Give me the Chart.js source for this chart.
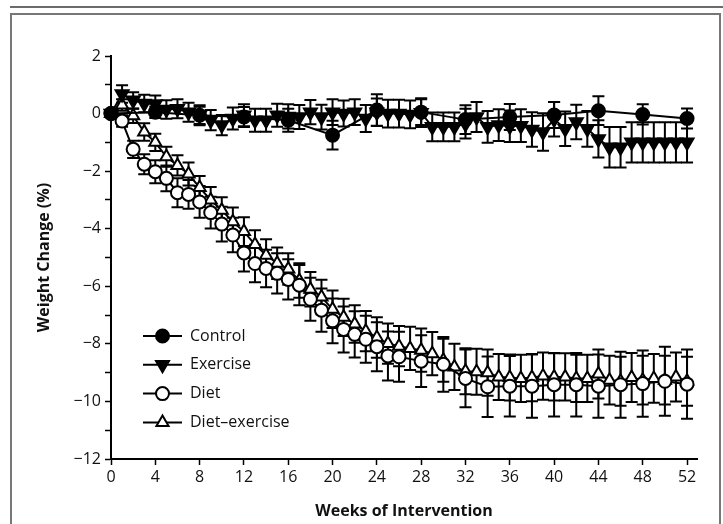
<!DOCTYPE html>
<html>
<head>
<meta charset="utf-8">
<script src="https://cdn.jsdelivr.net/npm/chart.js@4.4.0/dist/chart.umd.min.js"></script>
<style>
  html, body { margin: 0; padding: 0; background: #fff; }
  #wrap { position: relative; width: 723px; height: 524px; overflow: hidden; }
  #rule { position: absolute; left: 10px; top: 6px; right: 0; height: 2px; background: #6b6b6b; }
  #frame { position: absolute; left: 10px; top: 13px; width: 707px; height: 540px; border: 2px solid #777; }
  canvas { position: absolute; left: 0; top: 0; }
</style>
</head>
<body>
<div id="wrap">
  <div id="rule"></div>
  <div id="frame"></div>
  <canvas id="weightChart" width="723" height="524"></canvas>
</div>
<script>
// weeks of intervention
const weeklyWeeks = [0,1,2,3,4,5,6,7,8,9,10,11,12,13,14,15,16,17,18,19,20,21,22,23,24,25,26,
  27,28,29,30,31,32,33,34,35,36,37,38,39,40,41,42,43,44,45,46,47,48,49,50,51,52];
const controlWeeks = [0,4,8,12,16,20,24,28,32,36,40,44,48,52];
const dietWeeks = [0,1,2,3,4,5,6,7,8,9,10,11,12,13,14,15,16,17,18,19,20,21,22,23,24,25,26,
  28,30,32,34,36,38,40,42,44,46,48,50,52];

const xTicks = [0,4,8,12,16,20,24,28,32,36,40,44,48,52];
const yMajorTicks = [2,0,-2,-4,-6,-8,-10,-12];
const yMinorTicks = [1,-1,-3,-5,-7,-9,-11];

const seriesNames = ["Control", "Exercise", "Diet", "Diet\u2013exercise"];

// mean weight change (%) and error (+/-)
const controlMean = [0, 0.05, -0.06, -0.12, -0.23, -0.75, 0.12, 0.05, -0.21, -0.12, -0.05, 0.1, -0.03, -0.17];
const controlErr  = [0, 0.2, 0.3, 0.35, 0.4, 0.5, 0.55, 0.45, 0.5, 0.45, 0.45, 0.5, 0.35, 0.35];

const exerciseMean = [0, 0.68, 0.46, 0.35, 0.33, 0.14, 0.17, 0.05, -0.06, -0.23, -0.4, -0.17, -0.06, -0.23,
  -0.23, -0.06, -0.1, -0.12, 0.05, -0.12, 0.05, 0, 0.05, -0.17, 0.05, 0, 0, -0.03, 0.03,
  -0.46, -0.46, -0.46, -0.35, -0.12, -0.46, -0.4, -0.44, -0.42, -0.55, -0.64, -0.2, -0.53,
  -0.29, -0.53, -0.88, -1.17, -1.17, -1.0, -1.0, -1.0, -1.0, -1.0, -1.0];
const exerciseErr = [0, 0.3, 0.28, 0.3, 0.3, 0.32, 0.33, 0.33, 0.35, 0.35, 0.35, 0.38, 0.38, 0.4,
  0.4, 0.4, 0.42, 0.42, 0.42, 0.43, 0.45, 0.45, 0.45, 0.47, 0.47, 0.48, 0.48, 0.48, 0.5,
  0.5, 0.5, 0.5, 0.52, 0.52, 0.55, 0.55, 0.55, 0.57, 0.6, 0.65, 0.6, 0.6,
  0.6, 0.62, 0.65, 0.7, 0.7, 0.7, 0.7, 0.7, 0.7, 0.7, 0.7];

const dietMean = [0, -0.26, -1.24, -1.76, -2.02, -2.25, -2.75, -2.81, -3.07, -3.44, -3.84, -4.22, -4.84,
  -5.21, -5.38, -5.55, -5.76, -5.96, -6.45, -6.83, -7.2, -7.5, -7.67, -7.84, -8.1, -8.42, -8.45,
  -8.6, -8.71, -9.2, -9.49, -9.47, -9.47, -9.42, -9.42, -9.47, -9.42, -9.38, -9.3, -9.4];
const dietErr = [0, 0.2, 0.3, 0.35, 0.4, 0.45, 0.5, 0.5, 0.55, 0.55, 0.6, 0.6, 0.65,
  0.65, 0.65, 0.7, 0.7, 0.7, 0.75, 0.75, 0.78, 0.8, 0.8, 0.82, 0.85, 0.85, 0.87,
  0.9, 0.95, 1.0, 1.05, 1.05, 1.1, 1.1, 1.1, 1.1, 1.15, 1.15, 1.2, 1.2];

const dietExMean = [0, 0.3, -0.08, -0.64, -1.0, -1.5, -1.8, -2.1, -2.57, -3.0, -3.36, -3.76, -4.1, -4.55,
  -4.92, -5.2, -5.4, -5.8, -6.1, -6.37, -6.8, -7.08, -7.31, -7.56, -7.78, -7.99, -8.08, -8.16, -8.22,
  -8.34, -8.57, -8.8, -8.95, -8.97, -9.0, -9.15, -9.17, -9.2, -9.17, -9.12, -9.15, -9.15,
  -9.2, -9.2, -9.05, -9.26, -9.3, -9.17, -9.26, -9.2, -9.26, -9.15, -9.3];
const dietExErr = [0, 0.2, 0.25, 0.3, 0.3, 0.35, 0.35, 0.4, 0.4, 0.45, 0.45, 0.5, 0.5, 0.5,
  0.55, 0.55, 0.55, 0.6, 0.6, 0.6, 0.65, 0.65, 0.65, 0.7, 0.7, 0.7, 0.7, 0.75, 0.75,
  0.75, 0.75, 0.8, 0.8, 0.8, 0.8, 0.8, 0.8, 0.82, 0.82, 0.82, 0.82, 0.82,
  0.82, 0.82, 0.85, 0.85, 0.85, 0.85, 0.85, 0.85, 0.85, 0.85, 0.85];

const errorSets = [controlErr, exerciseErr, dietErr, dietExErr];

const toPoints = (xs, ys) => xs.map((w, i) => ({ x: w, y: ys[i] }));
const minus = v => v < 0 ? "\u2212" + Math.abs(v) : String(v);

Chart.defaults.font.family = "'Open Sans', sans-serif";
Chart.defaults.font.size = 16;
Chart.defaults.color = "#111";

// error bars go under the lines and markers
const errorBars = {
  id: "errorBars",
  beforeDatasetsDraw(chart) {
    const { ctx, scales: { x, y } } = chart;
    ctx.save();
    ctx.strokeStyle = "#000";
    ctx.lineWidth = 2;
    chart.data.datasets.forEach((ds, i) => {
      const errs = errorSets[i];
      ds.data.forEach((p, j) => {
        const e = errs[j];
        if (!e) return;
        const px = x.getPixelForValue(p.x);
        const top = y.getPixelForValue(p.y + e);
        const bot = y.getPixelForValue(p.y - e);
        ctx.beginPath();
        ctx.moveTo(px, top); ctx.lineTo(px, bot);
        ctx.moveTo(px - 6, top); ctx.lineTo(px + 6, top);
        ctx.moveTo(px - 6, bot); ctx.lineTo(px + 6, bot);
        ctx.stroke();
      });
    });
    ctx.restore();
  }
};

function drawMarker(ctx, ds, cx, cy) {
  const r = ds.pointRadius;
  ctx.beginPath();
  if (ds.pointStyle === "circle") {
    ctx.arc(cx, cy, r, 0, Math.PI * 2);
  } else {
    const a0 = (ds.pointRotation || 0) * Math.PI / 180;
    for (let k = 0; k < 3; k++) {
      const a = a0 + k * 2 * Math.PI / 3;
      const px = cx + Math.sin(a) * r, py = cy - Math.cos(a) * r;
      if (k) ctx.lineTo(px, py); else ctx.moveTo(px, py);
    }
    ctx.closePath();
  }
  ctx.fillStyle = ds.pointBackgroundColor;
  ctx.fill();
  ctx.lineWidth = 2;
  ctx.strokeStyle = "#000";
  ctx.stroke();
}

// legend sits inside the plot, lower left
const insideLegend = {
  id: "insideLegend",
  afterDatasetsDraw(chart) {
    const { ctx, chartArea } = chart;
    const x0 = chartArea.left + 32, x1 = chartArea.left + 71;
    ctx.save();
    chart.data.datasets.forEach((ds, i) => {
      const yy = chartArea.top + 280 + i * 28.8;
      ctx.strokeStyle = "#000";
      ctx.lineWidth = 2;
      ctx.beginPath();
      ctx.moveTo(x0, yy); ctx.lineTo(x1, yy);
      ctx.stroke();
      drawMarker(ctx, ds, (x0 + x1) / 2, yy);
      ctx.fillStyle = "#111";
      ctx.font = "16px 'Open Sans', sans-serif";
      ctx.textBaseline = "middle";
      ctx.textAlign = "left";
      ctx.fillText(ds.label, x1 + 8, yy);
    });
    ctx.restore();
  }
};

const common = { borderColor: "#000", borderWidth: 2, pointBorderColor: "#000", pointBorderWidth: 2, clip: false, tension: 0 };

new Chart(document.getElementById("weightChart"), {
  type: "line",
  data: {
    datasets: [
      { ...common, label: seriesNames[0], data: toPoints(controlWeeks, controlMean),
        pointStyle: "circle", pointRadius: 6.5, pointBackgroundColor: "#000" },
      { ...common, label: seriesNames[1], data: toPoints(weeklyWeeks, exerciseMean),
        pointStyle: "triangle", pointRotation: 180, pointRadius: 7.5, pointBackgroundColor: "#000" },
      { ...common, label: seriesNames[2], data: toPoints(dietWeeks, dietMean),
        pointStyle: "circle", pointRadius: 6.5, pointBackgroundColor: "#fff" },
      { ...common, label: seriesNames[3], data: toPoints(weeklyWeeks, dietExMean),
        pointStyle: "triangle", pointRadius: 7, pointBackgroundColor: "#fff" }
    ]
  },
  options: {
    responsive: false,
    animation: false,
    layout: { padding: { left: 12, right: 26, top: 56, bottom: 0 } },
    plugins: { legend: { display: false }, tooltip: { enabled: false } },
    scales: {
      x: {
        type: "linear",
        min: 0,
        max: 52.9,
        afterBuildTicks: axis => { axis.ticks = xTicks.map(v => ({ value: v })); },
        afterFit: axis => { axis.height = 65; },
        ticks: { color: "#111", padding: 3, maxRotation: 0 },
        grid: { drawOnChartArea: false, drawTicks: true, tickLength: 6, tickColor: "#000", tickWidth: 1.5 },
        border: { display: true, color: "#000", width: 2 },
        title: { display: true, text: "Weeks of Intervention", color: "#111",
          font: { weight: "bold", size: 16 }, padding: { top: 0, bottom: 3 } }
      },
      y: {
        type: "linear",
        min: -12,
        max: 2,
        afterBuildTicks: axis => {
          axis.ticks = [...yMajorTicks, ...yMinorTicks].sort((a, b) => a - b).map(v => ({ value: v }));
        },
        afterFit: axis => { axis.width = 99; },
        ticks: {
          color: "#111", padding: 4,
          callback: v => yMajorTicks.includes(v) ? minus(v) : ""
        },
        grid: { drawOnChartArea: false, drawTicks: true, tickLength: 6, tickColor: "#000", tickWidth: 1.5 },
        border: { display: true, color: "#000", width: 2 },
        title: { display: true, text: "Weight Change (%)", color: "#111",
          font: { weight: "bold", size: 16 }, padding: { top: 23, bottom: 0 } }
      }
    }
  },
  plugins: [errorBars, insideLegend]
});
</script>
</body>
</html>
